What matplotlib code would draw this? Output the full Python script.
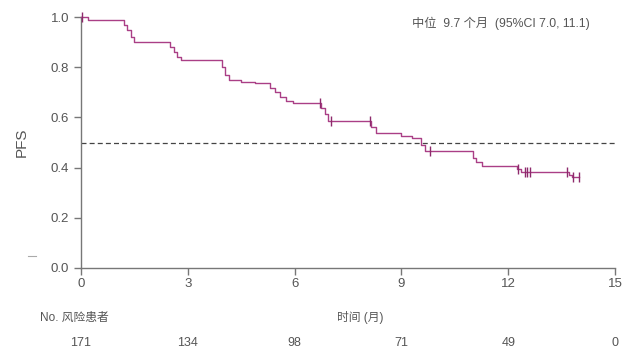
import matplotlib
matplotlib.use("Agg")
import matplotlib.pyplot as plt
import numpy as np
from matplotlib.lines import Line2D

plt.rcParams['font.family'] = ['Liberation Sans', 'Noto Sans CJK SC', 'DejaVu Sans']

# Kaplan-Meier step data (time in months, survival probability)
step_times = [0, 0.2, 1.2, 1.3, 1.4, 1.5, 2.5, 2.6, 2.7, 2.8, 3.95, 4.05, 4.15, 4.5, 4.9,
              5.3, 5.45, 5.6, 5.75, 5.95, 6.75, 6.85, 6.95, 8.15, 8.3, 9.0, 9.3, 9.55, 9.65,
              11.0, 11.1, 11.25, 12.25, 12.35, 13.7, 13.8]
step_surv = [1.0, 0.99, 0.97, 0.95, 0.92, 0.90, 0.88, 0.86, 0.84, 0.828, 0.80, 0.77, 0.748,
             0.742, 0.736, 0.716, 0.70, 0.68, 0.664, 0.656, 0.636, 0.612, 0.584, 0.56, 0.536,
             0.524, 0.516, 0.49, 0.468, 0.44, 0.424, 0.408, 0.395, 0.383, 0.372, 0.362]
end_time = 14.0
censor_times = [0.03, 6.72, 7.02, 8.12, 9.8, 12.27, 12.47, 12.53, 12.6, 13.65, 13.83, 14.0]

x_ticks = [0, 3, 6, 9, 12, 15]
y_ticks = [0.0, 0.2, 0.4, 0.6, 0.8, 1.0]
at_risk = [171, 134, 98, 71, 49, 0]

median_text = "中位  9.7 个月  (95%CI 7.0, 11.1)"

color = '#AA3F86'
gray = '#555555'

fig = plt.figure(figsize=(6.4, 3.59), dpi=100)
ax = fig.add_axes([81/640, 1-268/359, (615-81)/640, (268-17)/359])

t = np.array(step_times + [end_time])
s = np.array(step_surv + [step_surv[-1]])
ax.step(t, s, where='post', color=color, lw=1.0, clip_on=False, zorder=3)

def surv_at(x):
    idx = np.searchsorted(step_times, x, side='right') - 1
    return step_surv[idx]

cs = [surv_at(c) for c in censor_times]
ax.plot(censor_times, cs, linestyle='none', marker='|', markersize=7, mew=1.0,
        color='#8E2A6C', clip_on=False, zorder=4)

ax.axhline(0.5, color='#444444', lw=0.9, ls=(0, (4, 2.5)), zorder=2)

ax.set_xlim(0, 15)
ax.set_ylim(0, 1.0)
ax.set_xticks(x_ticks)
ax.set_yticks(y_ticks)
ax.set_xticklabels([str(v) for v in x_ticks])
ax.set_yticklabels([f"{v:.1f}" for v in y_ticks])
for sp in ['top', 'right']:
    ax.spines[sp].set_visible(False)
for sp in ['left', 'bottom']:
    ax.spines[sp].set_color('#777777')
    ax.spines[sp].set_linewidth(1.0)
ax.tick_params(axis='both', colors='#777777', labelcolor=gray, labelsize=9.5,
               length=5, width=1.0, direction='out')
ax.tick_params(axis='x', pad=2)
ax.set_ylabel("PFS", fontsize=11, color=gray, labelpad=16)

ax.text(0.787, 0.975, median_text, transform=ax.transAxes, ha='center', va='center',
        fontsize=8.8, color=gray)

# at-risk table
fig.text(40/640, 1-318/359, "No. 风险患者", fontsize=8.5, color=gray, ha='left', va='center')
fig.text(360/640, 1-318/359, "时间 (月)", fontsize=8.5, color=gray, ha='center', va='center')
for xv, n in zip(x_ticks, at_risk):
    xd = ax.transData.transform((xv, 0))[0]
    fig.text(xd/640, 1-343/359, str(n), fontsize=9, color=gray, ha='center', va='center')

fig.add_artist(Line2D([28/640, 36/640], [1-256/359, 1-256/359], color='#aaaaaa', lw=0.8,
                      transform=fig.transFigure))

fig.savefig("out.png", dpi=100)
